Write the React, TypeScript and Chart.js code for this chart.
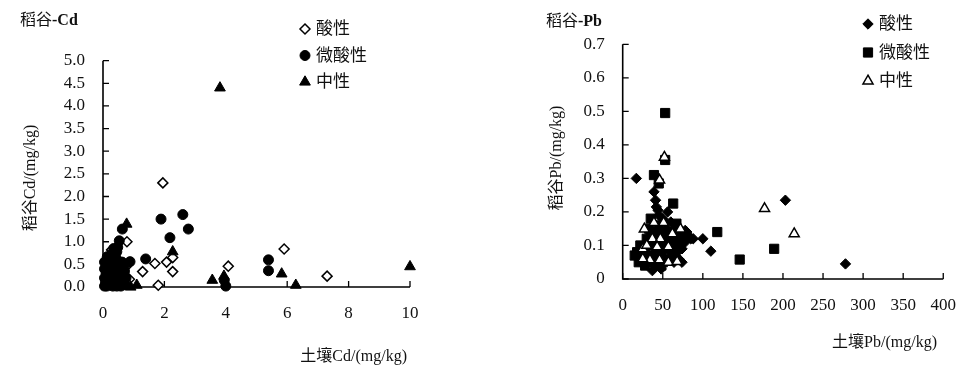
import React, { useEffect, useRef } from 'react';
import { Chart, registerables } from 'chart.js';

Chart.register(...registerables);

const SERIF = '"Liberation Serif", "Times New Roman", "Noto Sans CJK SC", serif';

// ---------- 稻谷-Cd (left panel) ----------
const cdSeriesNames = ['酸性', '微酸性', '中性'];
const cdAcid: [number, number][] = [
  [1.95, 2.3], [0.78, 1.0], [5.9, 0.84], [2.27, 0.65], [2.07, 0.55], [1.69, 0.52],
  [4.08, 0.46], [1.29, 0.34], [2.27, 0.34], [7.3, 0.24], [1.8, 0.04], [0.86, 0.17],
  [0.28, 0.82], [0.15, 0.25], [0.4, 0.15], [0.6, 0.1], [0.7, 0.25], [0.75, 0.45],
  [0.2, 0.05], [0.5, 0.6],
];
const cdWeakAcid: [number, number][] = [
  [1.89, 1.5], [2.6, 1.6], [2.78, 1.28], [2.18, 1.09], [1.39, 0.62], [0.88, 0.56],
  [0.63, 1.28], [0.53, 1.02], [0.45, 0.78], [5.39, 0.6], [5.39, 0.36], [4.0, 0.02],
  [3.95, 0.15], [0.14, 0.67], [0.1, 0.05], [0.15, 0.1], [0.2, 0.2], [0.25, 0.3],
  [0.3, 0.15], [0.35, 0.4], [0.4, 0.25], [0.45, 0.5], [0.2, 0.45], [0.1, 0.3],
  [0.5, 0.1], [0.55, 0.3], [0.6, 0.45], [0.65, 0.2], [0.7, 0.05], [0.3, 0.6],
  [0.15, 0.55], [0.4, 0.7], [0.25, 0.05], [0.45, 0.02], [0.12, 0.18], [0.35, 0.1],
  [0.7, 0.35], [0.08, 0.12], [0.5, 0.35], [0.22, 0.35], [0.05, 0.02], [0.05, 0.4],
  [0.05, 0.2], [0.05, 0.55], [0.1, 0.45], [0.18, 0.62], [0.25, 0.5], [0.3, 0.35],
  [0.35, 0.22], [0.38, 0.55], [0.42, 0.38], [0.48, 0.2], [0.52, 0.45], [0.58, 0.15],
  [0.62, 0.55], [0.28, 0.72], [0.18, 0.3], [0.32, 0.02], [0.58, 0.02], [0.68, 0.45],
  [0.75, 0.2], [0.12, 0.02], [0.35, 0.85], [0.48, 0.88],
];
const cdNeutral: [number, number][] = [
  [3.81, 4.4], [0.77, 1.39], [2.27, 0.78], [10.0, 0.45], [5.82, 0.29], [3.56, 0.15],
  [3.94, 0.24], [6.28, 0.04], [1.1, 0.04], [0.9, 0.0], [0.1, 0.1], [0.2, 0.15],
  [0.3, 0.05], [0.45, 0.2], [0.55, 0.05], [0.65, 0.15], [0.35, 0.3], [0.8, 0.02],
  [0.15, 0.02], [0.5, 0.55], [0.6, 0.3],
];
const cdXTicks = [0, 2, 4, 6, 8, 10];
const cdYTicks = [0, 0.5, 1, 1.5, 2, 2.5, 3, 3.5, 4, 4.5, 5];

// ---------- 稻谷-Pb (right panel) ----------
const pbSeriesNames = ['酸性', '微酸性', '中性'];
const pbAcid: [number, number][] = [
  [17, 0.3], [203, 0.235], [278, 0.045], [100, 0.12], [88, 0.12], [110, 0.083],
  [39, 0.26], [41, 0.235], [42, 0.215], [44, 0.205], [56, 0.2], [37, 0.025],
  [74, 0.05], [70, 0.06], [80, 0.14], [75, 0.13], [65, 0.1], [60, 0.055],
  [72, 0.12], [78, 0.145], [85, 0.12], [45, 0.19], [50, 0.18], [55, 0.15],
  [62, 0.14], [68, 0.08], [52, 0.06], [42, 0.04], [64, 0.05], [48, 0.03],
  [58, 0.11], [40, 0.09], [70, 0.15], [66, 0.07], [74, 0.09], [78, 0.11],
  [82, 0.13], [60, 0.17], [53, 0.17], [46, 0.13], [34, 0.11], [30, 0.07],
];
const pbWeakAcid: [number, number][] = [
  [53, 0.495], [39, 0.31], [45, 0.285], [63, 0.225], [118, 0.14], [189, 0.09],
  [146, 0.058], [53, 0.355], [67, 0.165], [18, 0.08], [15, 0.07], [20, 0.05],
  [25, 0.09], [35, 0.18], [30, 0.12], [40, 0.14], [45, 0.16], [50, 0.14],
  [55, 0.13], [48, 0.04], [60, 0.12], [70, 0.13], [65, 0.14], [42, 0.06],
  [38, 0.1], [32, 0.05], [55, 0.06], [25, 0.06], [33, 0.15], [58, 0.1],
  [45, 0.1], [28, 0.04], [22, 0.1], [35, 0.13], [42, 0.11], [48, 0.08],
  [52, 0.12], [58, 0.14], [62, 0.08], [28, 0.08], [36, 0.07], [44, 0.13],
  [50, 0.05], [56, 0.09], [40, 0.05], [65, 0.11], [72, 0.1], [20, 0.07],
];
const pbNeutral: [number, number][] = [
  [177, 0.21], [214, 0.135], [52, 0.363], [46, 0.295], [27, 0.149], [39, 0.168],
  [51, 0.168], [72, 0.149], [37, 0.12], [47, 0.12], [25, 0.09], [43, 0.096],
  [57, 0.096], [34, 0.057], [46, 0.057], [25, 0.06], [57, 0.05], [68, 0.052],
  [62, 0.135], [30, 0.1],
];
const pbXTicks = [0, 50, 100, 150, 200, 250, 300, 350, 400];
const pbYTicks = [0, 0.1, 0.2, 0.3, 0.4, 0.5, 0.6, 0.7];

type Marker = 'diamond' | 'circle' | 'triangle' | 'square';

interface Series {
  name: string;
  data: [number, number][];
  marker: Marker;
  filled: boolean;
  radius: number;
  order: number;
}

interface PanelSpec {
  pageLeft: number;
  width: number;
  height: number;
  area: { left: number; right: number; top: number; bottom: number };
  xTicks: number[];
  yTicks: number[];
  yFmt: (v: number) => string;
  titleMain: string;
  titleBold: string;
  titlePos: { x: number; y: number };
  xTitle: string;
  xTitlePos: { right: number; y: number };
  yTitle: string;
  yTitlePos: { x: number; y: number };
  legendPos: { x: number; y: number; gap: number };
  series: Series[];
}

const styleMap: Record<Marker, string> = {
  diamond: 'rectRot',
  circle: 'circle',
  triangle: 'triangle',
  square: 'rect',
};

function drawMarker(ctx: CanvasRenderingContext2D, s: Series, x: number, y: number) {
  const r = s.radius;
  ctx.beginPath();
  if (s.marker === 'circle') {
    ctx.arc(x, y, r, 0, Math.PI * 2);
  } else if (s.marker === 'diamond') {
    ctx.moveTo(x, y - r);
    ctx.lineTo(x + r, y);
    ctx.lineTo(x, y + r);
    ctx.lineTo(x - r, y);
    ctx.closePath();
  } else if (s.marker === 'square') {
    const h = r * Math.SQRT1_2;
    ctx.rect(x - h, y - h, 2 * h, 2 * h);
  } else {
    const w = r * Math.sin(Math.PI / 3);
    ctx.moveTo(x, y - r);
    ctx.lineTo(x + w, y + r / 2);
    ctx.lineTo(x - w, y + r / 2);
    ctx.closePath();
  }
  ctx.fillStyle = s.filled ? '#000' : '#fff';
  ctx.fill();
  ctx.lineWidth = s.filled ? 1 : 1.5;
  ctx.strokeStyle = '#000';
  ctx.stroke();
}

function makeDecor(p: PanelSpec) {
  return {
    id: 'decor',
    beforeDatasetsDraw(chart: any) {
      const ctx: CanvasRenderingContext2D = chart.ctx;
      const xs = chart.scales.x;
      const ys = chart.scales.y;
      const { left, right, top, bottom } = chart.chartArea;
      ctx.save();
      ctx.strokeStyle = '#000';
      ctx.lineWidth = 1.6;
      ctx.beginPath();
      ctx.moveTo(left, top);
      ctx.lineTo(left, bottom);
      ctx.lineTo(right, bottom);
      ctx.stroke();
      ctx.lineWidth = 1.3;
      ctx.beginPath();
      p.xTicks.forEach((v) => {
        const px = xs.getPixelForValue(v);
        ctx.moveTo(px, bottom);
        ctx.lineTo(px, bottom - 6);
      });
      p.yTicks.forEach((v) => {
        const py = ys.getPixelForValue(v);
        ctx.moveTo(left, py);
        ctx.lineTo(left + 6, py);
      });
      ctx.stroke();
      ctx.restore();
    },
    afterDraw(chart: any) {
      const ctx: CanvasRenderingContext2D = chart.ctx;
      ctx.save();
      ctx.fillStyle = '#111';
      ctx.textBaseline = 'middle';
      // panel title
      ctx.textAlign = 'left';
      ctx.font = `16px ${SERIF}`;
      ctx.fillText(p.titleMain, p.titlePos.x, p.titlePos.y);
      const w1 = ctx.measureText(p.titleMain).width;
      ctx.font = `bold 16px ${SERIF}`;
      ctx.fillText(p.titleBold, p.titlePos.x + w1, p.titlePos.y);
      // legend
      p.series.forEach((s, i) => {
        const y = p.legendPos.y + i * p.legendPos.gap;
        drawMarker(ctx, s, p.legendPos.x, y);
        ctx.fillStyle = '#111';
        ctx.font = `17px ${SERIF}`;
        ctx.textAlign = 'left';
        ctx.fillText(s.name, p.legendPos.x + 11, y + 1);
      });
      // axis titles
      ctx.font = `16px ${SERIF}`;
      ctx.fillStyle = '#111';
      ctx.textAlign = 'right';
      ctx.fillText(p.xTitle, p.xTitlePos.right, p.xTitlePos.y);
      ctx.translate(p.yTitlePos.x, p.yTitlePos.y);
      ctx.rotate(-Math.PI / 2);
      ctx.textAlign = 'center';
      ctx.fillText(p.yTitle, 0, 0);
      ctx.restore();
    },
  };
}

function Panel({ spec }: { spec: PanelSpec }) {
  const ref = useRef<HTMLCanvasElement>(null);
  useEffect(() => {
    if (!ref.current) return;
    const p = spec;
    const xMin = p.xTicks[0];
    const xMax = p.xTicks[p.xTicks.length - 1];
    const yMin = p.yTicks[0];
    const yMax = p.yTicks[p.yTicks.length - 1];
    const chart = new Chart(ref.current, {
      type: 'scatter',
      data: {
        datasets: p.series.map((s) => ({
          label: s.name,
          data: s.data.map(([x, y]) => ({ x, y })),
          pointStyle: styleMap[s.marker] as any,
          pointRadius: s.radius,
          pointBackgroundColor: s.filled ? '#000' : '#fff',
          pointBorderColor: '#000',
          pointBorderWidth: s.filled ? 1 : 1.5,
          order: s.order,
          clip: false as any,
        })),
      },
      options: {
        responsive: false,
        maintainAspectRatio: false,
        animation: false,
        layout: {
          padding: { left: 0, right: p.width - p.area.right, top: p.area.top, bottom: 0 },
        },
        plugins: {
          legend: { display: false },
          tooltip: { enabled: false },
          title: { display: false },
        },
        scales: {
          x: {
            type: 'linear',
            min: xMin,
            max: xMax,
            afterBuildTicks: (s: any) => {
              s.ticks = p.xTicks.map((v) => ({ value: v }));
            },
            ticks: {
              font: { family: SERIF, size: 17 },
              color: '#111',
              padding: 16,
              maxRotation: 0,
              autoSkip: false,
              callback: (v: any) => String(v),
            },
            grid: { display: false, drawTicks: false },
            border: { display: false },
            afterFit: (s: any) => {
              s.height = p.height - p.area.bottom;
            },
          },
          y: {
            type: 'linear',
            min: yMin,
            max: yMax,
            afterBuildTicks: (s: any) => {
              s.ticks = p.yTicks.map((v) => ({ value: v }));
            },
            ticks: {
              font: { family: SERIF, size: 17 },
              color: '#111',
              padding: 18,
              autoSkip: false,
              callback: (v: any) => p.yFmt(Number(v)),
            },
            grid: { display: false, drawTicks: false },
            border: { display: false },
            afterFit: (s: any) => {
              s.width = p.area.left;
            },
          },
        },
      },
      plugins: [makeDecor(p)],
    } as any);
    return () => chart.destroy();
  }, [spec]);
  return (
    <canvas
      ref={ref}
      width={spec.width}
      height={spec.height}
      style={{
        position: 'absolute',
        left: spec.pageLeft,
        top: 0,
        width: spec.width,
        height: spec.height,
      }}
    />
  );
}

const cdPanel: PanelSpec = {
  pageLeft: 0,
  width: 486,
  height: 373,
  area: { left: 103, right: 410, top: 60.7, bottom: 287 },
  xTicks: cdXTicks,
  yTicks: cdYTicks,
  yFmt: (v) => v.toFixed(1),
  titleMain: '稻谷',
  titleBold: '-Cd',
  titlePos: { x: 20, y: 21 },
  xTitle: '土壤Cd/(mg/kg)',
  xTitlePos: { right: 407, y: 357 },
  yTitle: '稻谷Cd/(mg/kg)',
  yTitlePos: { x: 31, y: 178 },
  legendPos: { x: 305, y: 29, gap: 26.5 },
  series: [
    { name: cdSeriesNames[0], data: cdAcid, marker: 'diamond', filled: false, radius: 5, order: 2 },
    { name: cdSeriesNames[1], data: cdWeakAcid, marker: 'circle', filled: true, radius: 5, order: 1 },
    { name: cdSeriesNames[2], data: cdNeutral, marker: 'triangle', filled: true, radius: 6.2, order: 0 },
  ],
};

const pbPanel: PanelSpec = {
  pageLeft: 486,
  width: 486,
  height: 373,
  area: { left: 136.7, right: 463.3, top: 44.3, bottom: 279 },
  xTicks: pbXTicks,
  yTicks: pbYTicks,
  yFmt: (v) => (v === 0 ? '0' : v.toFixed(1)),
  titleMain: '稻谷',
  titleBold: '-Pb',
  titlePos: { x: 60, y: 22 },
  xTitle: '土壤Pb/(mg/kg)',
  xTitlePos: { right: 451, y: 343 },
  yTitle: '稻谷Pb/(mg/kg)',
  yTitlePos: { x: 71, y: 158 },
  legendPos: { x: 382, y: 24, gap: 28.5 },
  series: [
    { name: pbSeriesNames[0], data: pbAcid, marker: 'diamond', filled: true, radius: 5.2, order: 2 },
    { name: pbSeriesNames[1], data: pbWeakAcid, marker: 'square', filled: true, radius: 6.5, order: 1 },
    { name: pbSeriesNames[2], data: pbNeutral, marker: 'triangle', filled: false, radius: 5.8, order: 0 },
  ],
};

export default function App() {
  return (
    <div style={{ position: 'absolute', left: 0, top: 0, width: 972, height: 373, background: '#fff' }}>
      <Panel spec={cdPanel} />
      <Panel spec={pbPanel} />
    </div>
  );
}
